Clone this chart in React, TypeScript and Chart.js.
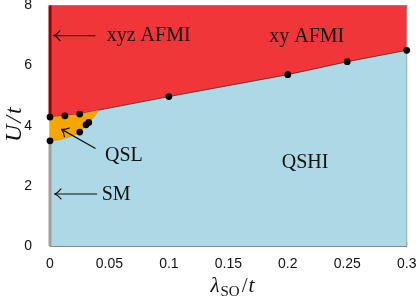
import React, { useEffect, useRef } from 'react';
import { Chart, registerables } from 'chart.js';

Chart.register(...registerables);

// ---- data ----
const boundaryX = [0, 0.0125, 0.025, 0.041, 0.1, 0.2, 0.25, 0.3];
const boundaryU = [4.29, 4.33, 4.39, 4.52, 4.97, 5.7, 6.13, 6.51];
const qslTopX = [0, 0.0125, 0.025, 0.041];
const qslTopU = [4.29, 4.33, 4.39, 4.52];
const qslBottomX = [0, 0.008, 0.016, 0.025, 0.0303, 0.0326, 0.037, 0.041];
const qslBottomU = [3.5, 3.54, 3.63, 3.79, 4.03, 4.11, 4.3, 4.52];
const pointX = [0, 0.0125, 0.025, 0, 0.025, 0.0303, 0.0326, 0.1, 0.2, 0.25, 0.3];
const pointU = [4.29, 4.33, 4.39, 3.5, 3.79, 4.03, 4.11, 4.97, 5.7, 6.13, 6.51];
const xyzLineX = [0, 0];
const xyzLineU = [4.29, 8];
const smLineX = [0, 0];
const smLineU = [0, 3.5];
const xTicks = [0, 0.05, 0.1, 0.15, 0.2, 0.25, 0.3];
const xTickLabels = ['0', '0.05', '0.1', '0.15', '0.2', '0.25', '0.3'];
const yTicks = [0, 2, 4, 6, 8];
const yTickLabels = ['0', '2', '4', '6', '8'];

const pts = (xs: number[], ys: number[]) => xs.map((x, i) => ({ x, y: ys[i] }));

const RED = 'rgb(240,54,56)';
const BLUE = 'rgb(173,216,230)';
const ORANGE = 'rgb(246,166,0)';
const DARKRED = 'rgb(150,0,0)';
const GRAY = 'rgb(160,160,160)';
const FRAME = 'rgb(130,140,145)';
const SERIF = '"Liberation Serif", "Times New Roman", serif';
const SANS = '"Liberation Sans", Arial, sans-serif';

function drawArrow(ctx: CanvasRenderingContext2D, x1: number, y1: number, x2: number, y2: number) {
  ctx.save();
  ctx.strokeStyle = '#111';
  ctx.lineWidth = 1.2;
  ctx.lineCap = 'round';
  ctx.beginPath();
  ctx.moveTo(x1, y1);
  ctx.lineTo(x2, y2);
  ctx.stroke();
  const a = Math.atan2(y2 - y1, x2 - x1);
  const ux = Math.cos(a), uy = Math.sin(a);
  const px = -uy, py = ux;
  for (const s of [1, -1]) {
    ctx.beginPath();
    ctx.moveTo(x2, y2);
    ctx.quadraticCurveTo(
      x2 - ux * 3 + px * s * 1.2, y2 - uy * 3 + py * s * 1.2,
      x2 - ux * 6 + px * s * 5, y2 - uy * 6 + py * s * 5
    );
    ctx.stroke();
  }
  ctx.restore();
}

const phasePlugin = {
  id: 'phasePlugin',
  beforeDatasetsDraw(chart: any) {
    const { ctx, chartArea: a, scales } = chart;
    const xs = scales.x, ys = scales.y;
    ctx.save();
    ctx.strokeStyle = FRAME;
    ctx.lineWidth = 1;
    ctx.strokeRect(a.left, a.top, a.right - a.left, a.bottom - a.top);
    ctx.beginPath();
    for (const v of xTicks) {
      const p = xs.getPixelForValue(v);
      ctx.moveTo(p, a.bottom); ctx.lineTo(p, a.bottom - 4);
      ctx.moveTo(p, a.top); ctx.lineTo(p, a.top + 4);
    }
    for (const v of yTicks) {
      const p = ys.getPixelForValue(v);
      ctx.moveTo(a.left, p); ctx.lineTo(a.left + 4, p);
      ctx.moveTo(a.right, p); ctx.lineTo(a.right - 4, p);
    }
    ctx.stroke();
    ctx.restore();
  },
  afterDatasetsDraw(chart: any) {
    const { ctx, chartArea: a, scales } = chart;
    const X = (v: number) => scales.x.getPixelForValue(v);
    const Y = (v: number) => scales.y.getPixelForValue(v);
    ctx.save();
    ctx.fillStyle = '#111';
    ctx.font = `20px ${SERIF}`;
    ctx.textBaseline = 'alphabetic';
    ctx.textAlign = 'left';
    ctx.fillText('xyz AFMI', X(0.0477), Y(6.82));
    ctx.fillText('SM', X(0.0435), Y(1.53));
    ctx.fillText('QSL', X(0.0463), Y(2.83));
    ctx.textAlign = 'center';
    ctx.fillText('xy AFMI', X(0.2159), Y(6.79));
    ctx.fillText('QSHI', X(0.2145), Y(2.595));
    drawArrow(ctx, X(0.0378), Y(7.0), X(0.0034), Y(7.0));
    drawArrow(ctx, X(0.0393), Y(1.73), X(0.0042), Y(1.73));
    drawArrow(ctx, X(0.0379), Y(3.25), X(0.0098), Y(3.88));

    // y title
    ctx.save();
    ctx.translate(15, (a.top + a.bottom) / 2 - 2);
    ctx.rotate(-Math.PI / 2);
    ctx.font = `italic 24px ${SERIF}`;
    (ctx as any).letterSpacing = '2px';
    ctx.textAlign = 'center';
    ctx.textBaseline = 'middle';
    ctx.fillText('U/t', 0, 0);
    ctx.restore();

    // x title: λ_SO / t
    ctx.textAlign = 'left';
    ctx.textBaseline = 'alphabetic';
    const big = `italic 21px ${SERIF}`;
    const sub = `15px ${SERIF}`;
    const up = `21px ${SERIF}`;
    ctx.font = big; const wL = ctx.measureText('λ').width;
    ctx.font = sub; const wS = ctx.measureText('SO').width;
    ctx.font = up; const wSl = ctx.measureText('/').width;
    ctx.font = big; const wT = ctx.measureText('t').width;
    const total = wL + 1 + wS + 2 + wSl + 1 + wT;
    let x0 = (a.left + a.right) / 2 + 4 - total / 2;
    const base = 292;
    ctx.font = big; ctx.fillText('λ', x0, base); x0 += wL + 1;
    ctx.font = sub; ctx.fillText('SO', x0, base + 4); x0 += wS + 2;
    ctx.font = up; ctx.fillText('/', x0, base); x0 += wSl + 1;
    ctx.font = big; ctx.fillText('t', x0, base);
    ctx.restore();
  },
};

export default function App() {
  const ref = useRef<HTMLCanvasElement | null>(null);
  useEffect(() => {
    if (!ref.current) return;
    const chart = new Chart(ref.current, {
      type: 'scatter',
      data: {
        datasets: [
          { data: pts(pointX, pointU), showLine: false, pointRadius: 3.4, pointBackgroundColor: '#000', pointBorderWidth: 0, clip: false } as any,
          { data: pts(xyzLineX, xyzLineU), showLine: true, borderColor: DARKRED, borderWidth: 3, pointRadius: 0, clip: false } as any,
          { data: pts(smLineX, smLineU), showLine: true, borderColor: GRAY, borderWidth: 3, pointRadius: 0, clip: false } as any,
          { data: pts(qslBottomX, qslBottomU), showLine: true, fill: 4, backgroundColor: ORANGE, borderColor: 'rgba(170,110,0,0.7)', borderWidth: 0.6, pointRadius: 0, tension: 0.3 } as any,
          { data: pts(qslTopX, qslTopU), showLine: true, fill: false, borderWidth: 0, borderColor: 'rgba(0,0,0,0)', pointRadius: 0 } as any,
          { data: pts(boundaryX, boundaryU), showLine: true, fill: 'end', backgroundColor: RED, borderColor: '#3a2a2a', borderWidth: 0.8, pointRadius: 0 } as any,
          { data: pts(boundaryX, boundaryU), showLine: true, fill: 'start', backgroundColor: BLUE, borderWidth: 0, borderColor: 'rgba(0,0,0,0)', pointRadius: 0 } as any,
        ],
      },
      options: {
        animation: false,
        responsive: false,
        maintainAspectRatio: false,
        layout: { padding: { top: 5.5, right: 12.3, left: 0, bottom: 0 } },
        plugins: { legend: { display: false }, tooltip: { enabled: false } },
        elements: { line: { tension: 0 } },
        scales: {
          x: {
            type: 'linear', min: 0, max: 0.3,
            afterBuildTicks: (s: any) => { s.ticks = xTicks.map((v) => ({ value: v })); },
            afterFit: (s: any) => { s.height = 53; s.paddingLeft = 0; s.paddingRight = 0; },
            ticks: {
              callback: (_v: any, i: number) => xTickLabels[i],
              font: { family: SANS, size: 14 }, color: '#111', padding: 2, maxRotation: 0, autoSkip: false,
            },
            grid: { display: false },
            border: { display: true, color: FRAME, width: 1 },
          },
          y: {
            type: 'linear', min: 0, max: 8,
            afterBuildTicks: (s: any) => { s.ticks = yTicks.map((v) => ({ value: v })); },
            afterFit: (s: any) => { s.width = 50; s.paddingTop = 0; s.paddingBottom = 0; },
            ticks: {
              callback: (_v: any, i: number) => yTickLabels[i],
              font: { family: SANS, size: 14 }, color: '#111', padding: 10, autoSkip: false,
            },
            grid: { display: false },
            border: { display: true, color: FRAME, width: 1 },
          },
        },
      } as any,
      plugins: [phasePlugin],
    });
    return () => chart.destroy();
  }, []);
  return (
    <div style={{ position: 'fixed', left: 0, top: 0, width: 419, height: 299, background: '#fff' }}>
      <canvas ref={ref} width={419} height={299} style={{ display: 'block', width: 419, height: 299 }} />
    </div>
  );
}
